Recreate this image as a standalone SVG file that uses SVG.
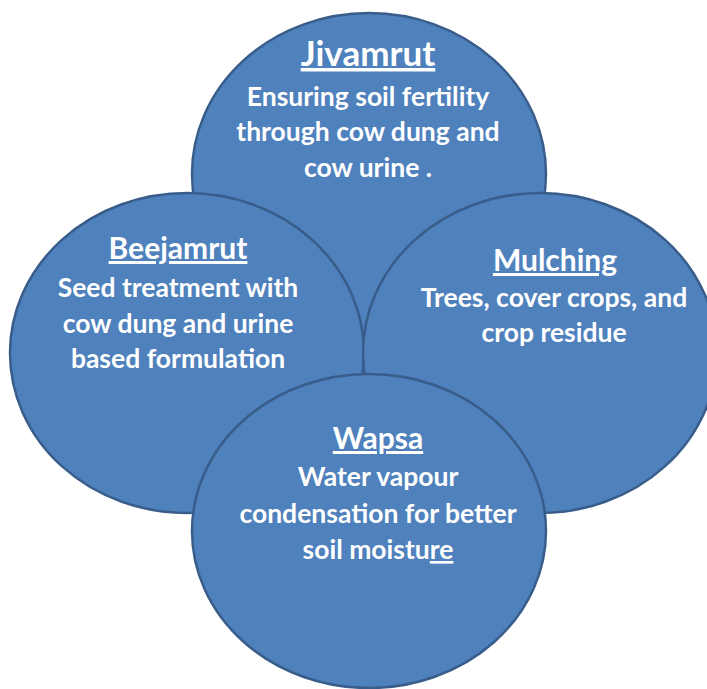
<svg xmlns="http://www.w3.org/2000/svg" width="707" height="689" viewBox="0 0 707 689">
<style>
.c{fill:#4F81BD;stroke:#385D8A;stroke-width:2.5}
text{font-family:Lato,"Open Sans","Liberation Sans",sans-serif;font-weight:bold;fill:#FFFFFF;text-anchor:middle}
.t{font-size:30px;text-decoration:underline}
.tl{font-size:35px}
.b{font-size:26.5px}
.u{text-decoration:underline}
</style>
<rect width="707" height="689" fill="#FFFFFF"/>
<g id="connectors"></g>
<g id="jivamrut">
<ellipse class="c" cx="369" cy="174" rx="177" ry="161"/>
<text class="t tl" x="368" y="66">Jivamrut</text>
<text class="b" x="368" y="106">Ensuring soil fertility</text>
<text class="b" x="368" y="141">through cow dung and</text>
<text class="b" x="368" y="177">cow urine .</text>
</g>
<g id="beejamrut">
<ellipse class="c" cx="187" cy="353" rx="177" ry="160"/>
<text class="t" x="178" y="259">Beejamrut</text>
<text class="b" x="178" y="297">Seed treatment with</text>
<text class="b" x="178" y="333">cow dung and urine</text>
<text class="b" x="178" y="368">based formulation</text>
</g>
<g id="mulching">
<ellipse class="c" cx="540" cy="353" rx="177" ry="160"/>
<text class="t" x="555" y="271">Mulching</text>
<text class="b" x="554" y="307">Trees, cover crops, and</text>
<text class="b" x="554" y="342">crop residue</text>
</g>
<g id="wapsa">
<ellipse class="c" cx="369" cy="531" rx="177" ry="157"/>
<text class="t" x="378" y="449">Wapsa</text>
<text class="b" x="378" y="486">Water vapour</text>
<text class="b" x="378" y="523">condensation for better</text>
<text class="b" x="378" y="559">soil moistu<tspan class="u">re</tspan></text>
</g>
</svg>
